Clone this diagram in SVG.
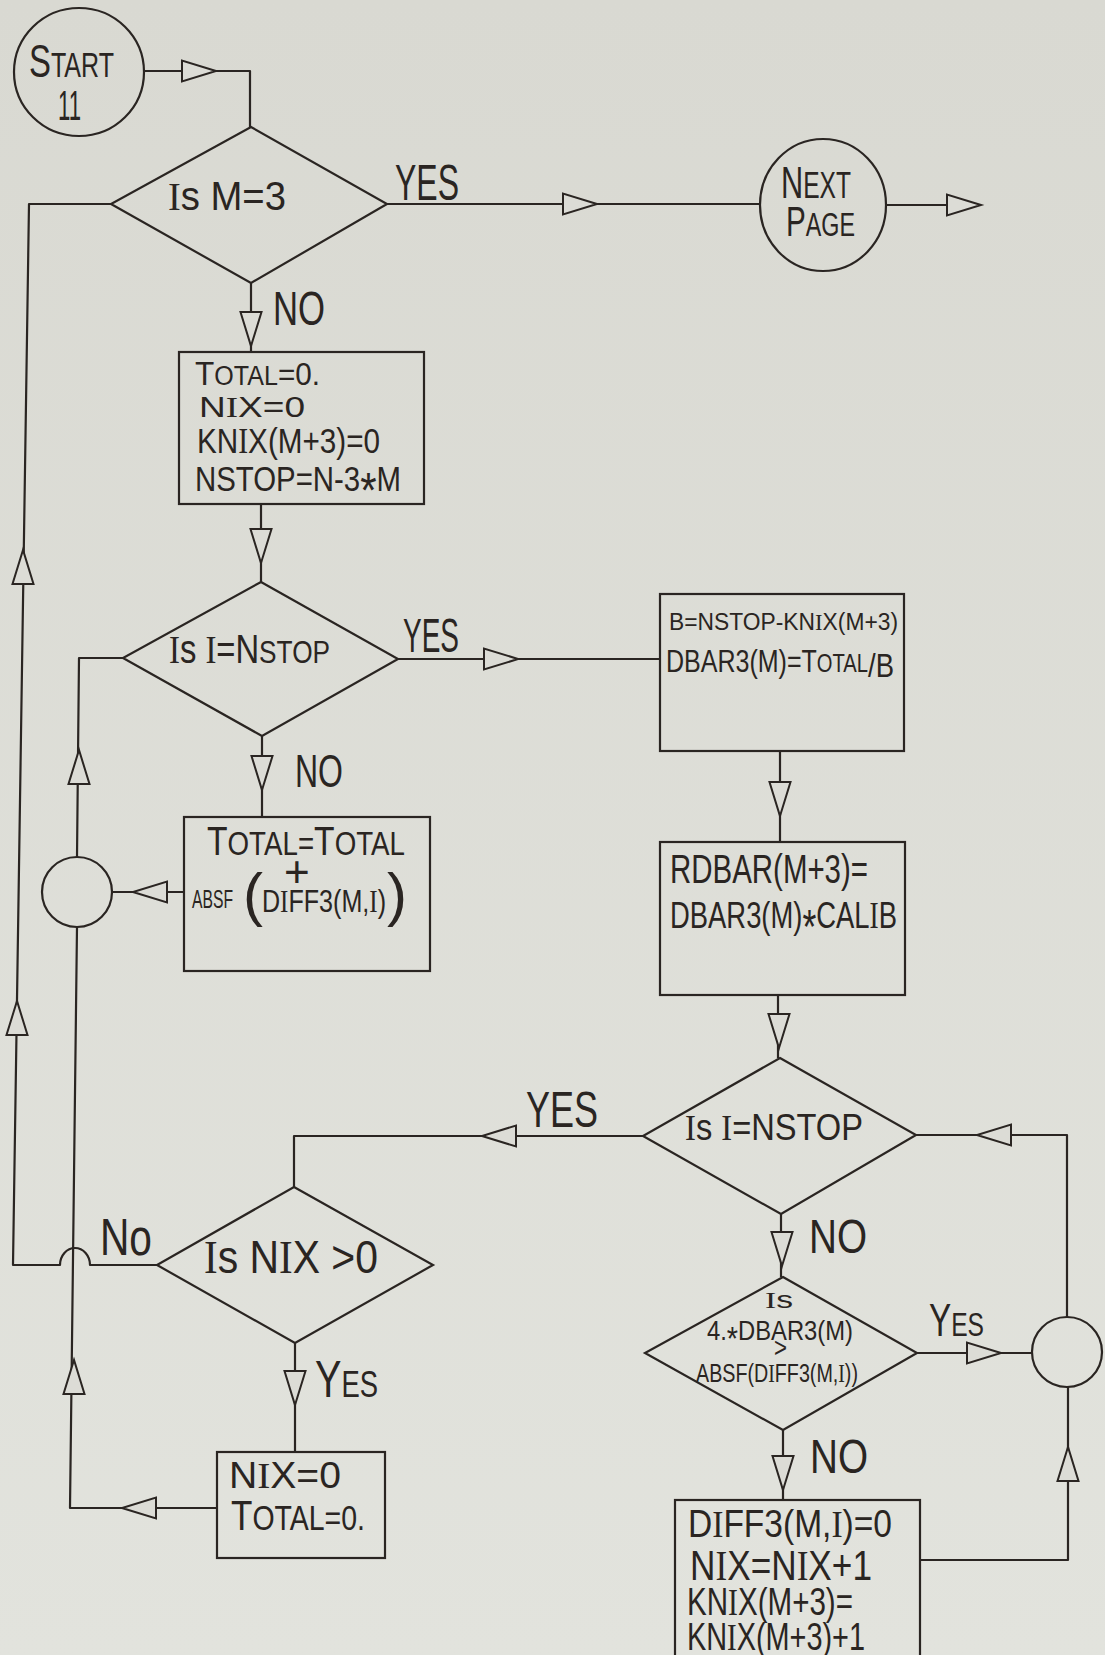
<svg xmlns="http://www.w3.org/2000/svg" width="1105" height="1655" viewBox="0 0 1105 1655">
<defs>
<linearGradient id="bg" x1="0" y1="0" x2="0" y2="1"><stop offset="0" stop-color="#d9d9d2"/><stop offset="1" stop-color="#e2e3dd"/></linearGradient>
<path id="tri" d="M0,0 L-34,-10.5 L-34,10.5 Z"/>
<style>
.ln{fill:none;stroke:#2a2522;stroke-width:2.2;stroke-linejoin:round}
.nd{fill:none;stroke:#2a2522;stroke-width:2.2}
.ar{fill:#dcdcd6;stroke:#2a2522;stroke-width:2;stroke-linejoin:miter}
.t{font-family:"Liberation Sans",Arial,sans-serif;fill:#2a2522}
.i{font-family:"Liberation Serif","Times New Roman",serif}
</style>
</defs>
<rect x="0" y="0" width="1105" height="1655" fill="url(#bg)"/>

<g id="connectors">
<path class="ln" d="M144,71 H250 V127"/>
<path class="ln" d="M387,204 H760"/>
<path class="ln" d="M886,205 H948"/>
<path class="ln" d="M251,283 V352"/>
<path class="ln" d="M261,504 V582"/>
<path class="ln" d="M398,659 H660"/>
<path class="ln" d="M262,736 V817"/>
<path class="ln" d="M184,892 H112"/>
<path class="ln" d="M77,857 L79,658 H123"/>
<path class="ln" d="M780,751 V842"/>
<path class="ln" d="M778,995 V1058"/>
<path class="ln" d="M643,1136 H294 V1187"/>
<path class="ln" d="M781,1214 V1277"/>
<path class="ln" d="M917,1353 H1032"/>
<path class="ln" d="M1067,1317 V1135 H916"/>
<path class="ln" d="M783,1430 V1500"/>
<path class="ln" d="M920,1560 H1068 V1387"/>
<path class="ln" d="M295,1343 V1452"/>
<path class="ln" d="M217,1508 H70 L77,927"/>
<path class="ln" d="M157,1265 H90 A15,17 0 0 0 60,1265 H13 L29,204 H111"/>
<use href="#tri" class="ar" transform="translate(216,71)"/>
<use href="#tri" class="ar" transform="translate(597,204)"/>
<use href="#tri" class="ar" transform="translate(981,205)"/>
<use href="#tri" class="ar" transform="translate(251,346) rotate(90)"/>
<use href="#tri" class="ar" transform="translate(261,563) rotate(90)"/>
<use href="#tri" class="ar" transform="translate(518,659)"/>
<use href="#tri" class="ar" transform="translate(262,790) rotate(90)"/>
<use href="#tri" class="ar" transform="translate(133,892) rotate(180)"/>
<use href="#tri" class="ar" transform="translate(79,750) rotate(-90)"/>
<use href="#tri" class="ar" transform="translate(780,816) rotate(90)"/>
<use href="#tri" class="ar" transform="translate(779,1048) rotate(90)"/>
<use href="#tri" class="ar" transform="translate(482,1136) rotate(180)"/>
<use href="#tri" class="ar" transform="translate(782,1266) rotate(90)"/>
<use href="#tri" class="ar" transform="translate(1001,1353)"/>
<use href="#tri" class="ar" transform="translate(977,1135) rotate(180)"/>
<use href="#tri" class="ar" transform="translate(783,1490) rotate(90)"/>
<use href="#tri" class="ar" transform="translate(1068,1447) rotate(-90)"/>
<use href="#tri" class="ar" transform="translate(295,1405) rotate(90)"/>
<use href="#tri" class="ar" transform="translate(122,1508) rotate(180)"/>
<use href="#tri" class="ar" transform="translate(74,1360) rotate(-90)"/>
<use href="#tri" class="ar" transform="translate(23,550) rotate(-90)"/>
<use href="#tri" class="ar" transform="translate(17,1001) rotate(-90)"/>
</g>

<g id="edge-labels">
<text class="t" x="395" y="200" font-size="50" textLength="64" lengthAdjust="spacingAndGlyphs">YES</text>
<text class="t" x="273" y="325" font-size="48" textLength="52" lengthAdjust="spacingAndGlyphs">NO</text>
<text class="t" x="403" y="652" font-size="48" textLength="56" lengthAdjust="spacingAndGlyphs">YES</text>
<text class="t" x="295" y="787" font-size="46" textLength="48" lengthAdjust="spacingAndGlyphs">NO</text>
<text class="t" x="526" y="1127" font-size="50" textLength="72" lengthAdjust="spacingAndGlyphs">YES</text>
<text class="t" x="809" y="1253" font-size="48" textLength="58" lengthAdjust="spacingAndGlyphs">NO</text>
<text class="t" x="929" y="1336" textLength="55" lengthAdjust="spacingAndGlyphs"><tspan font-size="46">Y</tspan><tspan font-size="34">ES</tspan></text>
<text class="t" x="810" y="1473" font-size="48" textLength="58" lengthAdjust="spacingAndGlyphs">NO</text>
<text class="t" x="100" y="1255" font-size="52" textLength="52" lengthAdjust="spacingAndGlyphs">No</text>
<text class="t" x="315" y="1397" textLength="63" lengthAdjust="spacingAndGlyphs"><tspan font-size="52">Y</tspan><tspan font-size="36">ES</tspan></text>
</g>

<g id="start">
<ellipse class="nd" cx="79" cy="72" rx="65" ry="64"/>
<text class="t" x="29" y="77" textLength="85" lengthAdjust="spacingAndGlyphs"><tspan font-size="46">S</tspan><tspan font-size="35">TART</tspan></text>
<text class="t" x="58" y="120" font-size="42" textLength="23" lengthAdjust="spacingAndGlyphs">11</text>
</g>

<g id="is-m-3">
<polygon class="nd" points="251,127 387,204 251,283 111,204"/>
<text class="t" x="168" y="210" font-size="40" textLength="118" lengthAdjust="spacingAndGlyphs"><tspan class="i">I</tspan>s M=3</text>
</g>

<g id="next-page">
<ellipse class="nd" cx="823" cy="205" rx="63" ry="66"/>
<text class="t" x="781" y="198" textLength="70" lengthAdjust="spacingAndGlyphs"><tspan font-size="45">N</tspan><tspan font-size="36">EXT</tspan></text>
<text class="t" x="786" y="236" textLength="69" lengthAdjust="spacingAndGlyphs"><tspan font-size="42">P</tspan><tspan font-size="33">AGE</tspan></text>
</g>

<g id="init-box">
<rect class="nd" x="179" y="352" width="245" height="152"/>
<text class="t" x="195" y="385" textLength="125" lengthAdjust="spacingAndGlyphs"><tspan font-size="34">T</tspan><tspan font-size="27">OTAL</tspan><tspan font-size="32">=0.</tspan></text>
<text class="t" x="199" y="417" font-size="29" textLength="106" lengthAdjust="spacingAndGlyphs">N<tspan class="i">I</tspan>X=0</text>
<text class="t" x="197" y="453" font-size="35" textLength="183" lengthAdjust="spacingAndGlyphs">KN<tspan class="i">I</tspan>X(M+3)=0</text>
<text class="t" x="195" y="491" font-size="35" textLength="206" lengthAdjust="spacingAndGlyphs">NSTOP=N-3<tspan font-size="50" dy="17">*</tspan><tspan dy="-17">M</tspan></text>
</g>

<g id="is-i-nstop-1">
<polygon class="nd" points="261,582 398,659 262,736 123,658"/>
<text class="t" x="169" y="663" textLength="161" lengthAdjust="spacingAndGlyphs"><tspan font-size="40"><tspan class="i">I</tspan>s <tspan class="i">I</tspan>=N</tspan><tspan font-size="32">STOP</tspan></text>
</g>

<g id="dbar-box">
<rect class="nd" x="660" y="594" width="244" height="157"/>
<text class="t" x="669" y="630" font-size="23" textLength="229" lengthAdjust="spacingAndGlyphs">B=NSTOP-KN<tspan class="i">I</tspan>X(M+3)</text>
<text class="t" x="666" y="672" textLength="228" lengthAdjust="spacingAndGlyphs"><tspan font-size="31">DBAR3(M)=T</tspan><tspan font-size="25">OTAL</tspan><tspan font-size="34" dy="5">/B</tspan></text>
</g>

<g id="total-box">
<rect class="nd" x="184" y="817" width="246" height="154"/>
<text class="t" x="207" y="855" textLength="198" lengthAdjust="spacingAndGlyphs"><tspan font-size="40">T</tspan><tspan font-size="33">OTAL=</tspan><tspan font-size="40">T</tspan><tspan font-size="33">OTAL</tspan></text>
<text class="t" x="284" y="887" font-size="44">+</text>
<text class="t" x="192" y="908" font-size="26" textLength="41" lengthAdjust="spacingAndGlyphs">ABSF</text>
<text class="t" x="243" y="915" font-size="60">(</text>
<text class="t" x="262" y="912" font-size="31" textLength="124" lengthAdjust="spacingAndGlyphs">D<tspan class="i">I</tspan>FF3(M,<tspan class="i">I</tspan>)</text>
<text class="t" x="387" y="915" font-size="60">)</text>
</g>

<g id="join-left">
<circle class="nd" cx="77" cy="892" r="35"/>
</g>

<g id="rdbar-box">
<rect class="nd" x="660" y="842" width="245" height="153"/>
<text class="t" x="670" y="883" font-size="40" textLength="198" lengthAdjust="spacingAndGlyphs">RDBAR(M+3)=</text>
<text class="t" x="670" y="928" font-size="37" textLength="227" lengthAdjust="spacingAndGlyphs">DBAR3(M)<tspan font-size="48" dy="15">*</tspan><tspan dy="-15">CAL</tspan><tspan class="i">I</tspan>B</text>
</g>

<g id="is-i-nstop-2">
<polygon class="nd" points="780,1058 916,1135 781,1214 643,1136"/>
<text class="t" x="685" y="1140" font-size="36" textLength="178" lengthAdjust="spacingAndGlyphs"><tspan class="i">I</tspan>s <tspan class="i">I</tspan>=NSTOP</text>
</g>

<g id="is-4dbar">
<polygon class="nd" points="783,1277 917,1353 783,1430 645,1353"/>
<text class="t" x="765" y="1308" font-size="23" textLength="28" lengthAdjust="spacingAndGlyphs"><tspan class="i">I</tspan>s</text>
<text class="t" x="707" y="1340" font-size="28" textLength="146" lengthAdjust="spacingAndGlyphs">4.<tspan font-size="34" dy="10">*</tspan><tspan dy="-10">DBAR3(M)</tspan></text>
<text class="t" x="774" y="1357" font-size="28" textLength="13" lengthAdjust="spacingAndGlyphs">&gt;</text>
<text class="t" x="696" y="1382" font-size="25" textLength="162" lengthAdjust="spacingAndGlyphs">ABSF(D<tspan class="i">I</tspan>FF3(M,<tspan class="i">I</tspan>))</text>
</g>

<g id="join-right">
<circle class="nd" cx="1067" cy="1352" r="35"/>
</g>

<g id="diff-box">
<rect class="nd" x="675" y="1500" width="245" height="175"/>
<text class="t" x="688" y="1537" font-size="38" textLength="204" lengthAdjust="spacingAndGlyphs">D<tspan class="i">I</tspan>FF3(M,<tspan class="i">I</tspan>)=0</text>
<text class="t" x="690" y="1580" font-size="42" textLength="182" lengthAdjust="spacingAndGlyphs">N<tspan class="i">I</tspan>X=N<tspan class="i">I</tspan>X+1</text>
<text class="t" x="687" y="1615" font-size="38" textLength="166" lengthAdjust="spacingAndGlyphs">KN<tspan class="i">I</tspan>X(M+3)=</text>
<text class="t" x="687" y="1650" font-size="38" textLength="178" lengthAdjust="spacingAndGlyphs">KN<tspan class="i">I</tspan>X(M+3)+1</text>
</g>

<g id="is-nix-gt-0">
<polygon class="nd" points="294,1187 433,1265 295,1343 157,1265"/>
<text class="t" x="204" y="1273" font-size="46" textLength="174" lengthAdjust="spacingAndGlyphs"><tspan class="i">I</tspan>s N<tspan class="i">I</tspan>X &gt;0</text>
</g>

<g id="reset-box">
<rect class="nd" x="217" y="1452" width="168" height="106"/>
<text class="t" x="229" y="1488" font-size="36" textLength="112" lengthAdjust="spacingAndGlyphs">N<tspan class="i">I</tspan>X=0</text>
<text class="t" x="231" y="1530" textLength="134" lengthAdjust="spacingAndGlyphs"><tspan font-size="43">T</tspan><tspan font-size="35">OTAL=0.</tspan></text>
</g>
</svg>
